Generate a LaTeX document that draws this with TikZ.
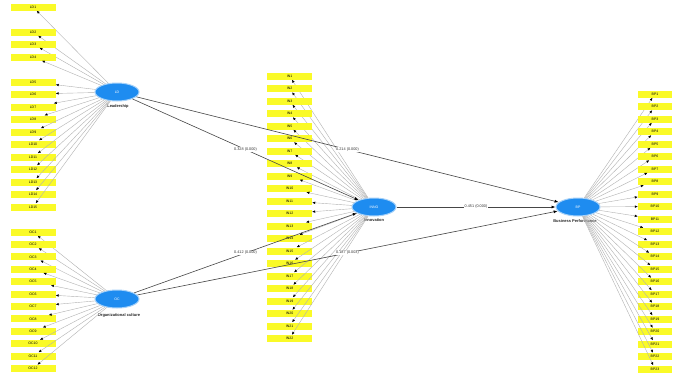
\documentclass[tikz,border=0pt]{standalone}
\usepackage{fontspec}
\setmainfont{Liberation Sans}
\usetikzlibrary{arrows.meta,shapes.geometric}
\definecolor{boxyellow}{RGB}{250,250,40}
\definecolor{lvblue}{RGB}{30,140,240}
\tikzset{
  indbox/.style={fill=boxyellow,draw=none,minimum width=45pt,minimum height=7pt,inner sep=0pt,font=\fontsize{3.5}{4}\selectfont},
  indboxr/.style={indbox,minimum width=34pt},
  lv/.style={ellipse,fill=lvblue,draw=lvblue!40,line width=1pt,minimum width=44pt,minimum height=18pt,inner sep=0pt,text=white,font=\fontsize{3.5}{4}\selectfont},
  lvlabel/.style={font=\fontsize{4}{5}\selectfont\bfseries,inner sep=0pt,text=black!85},
  ind/.style={draw=gray!60,line width=0.4pt,arrows={-{Latex[length=3pt,width=2.5pt,color=black]}}},
  pathline/.style={draw=gray!55!black,line width=0.6pt,-{Latex[length=4pt,width=3pt,color=black]}},
  coef/.style={font=\fontsize{3.8}{4.5}\selectfont,fill=white,inner sep=0.5pt,text=black!80}
}
\begin{document}
\begin{tikzpicture}[x=1pt,y=-1pt]
\useasboundingbox[fill=white] (0,0) rectangle (674,373);
% latent variables
\node[lv] (e1) at (117,92) {LD};
\node[lv] (e2) at (117,299) {OC};
\node[lv] (em) at (374,207) {INNO};
\node[lv] (er) at (578,207) {BP};
\node[lvlabel,anchor=north] (t1) at (118,104) {Leadership};
\node[lvlabel,anchor=north] (t2) at (119,313) {Organizational culture};
\node[lvlabel,anchor=north] (tm) at (374,218) {Innovation};
\node[lvlabel,anchor=north] (tr) at (575,219) {Business Performance};
% top-left indicators
\foreach \y [count=\i] in {7,32,44,57,82,94,107,119,132,144,157,169,182,194,207}{
  \node[indbox] (a\i) at (33,\y) {LD\i};
  \draw[ind] (e1) -- (a\i);
}
% bottom-left indicators
\foreach \i in {1,...,12}{
  \node[indbox] (b\i) at (33,{232+12.4*(\i-1)}) {OC\i};
  \draw[ind] (e2) -- (b\i);
}
% middle indicators
\foreach \i in {1,...,22}{
  \node[indbox] (c\i) at (289.5,{76+12.5*(\i-1)}) {IN\i};
  \draw[ind] (em) -- (c\i);
}
% right indicators
\foreach \i in {1,...,23}{
  \node[indboxr] (d\i) at (655,{94+12.5*(\i-1)}) {BP\i};
  \draw[ind] (er) -- (d\i);
}
% structural paths
\draw[pathline] (e1) -- node[coef,pos=0.5] {0.328 (0.000)} (em);
\draw[pathline] (e1) -- node[coef,pos=0.5] {0.214 (0.000)} (er);
\draw[pathline] (e2) -- node[coef,pos=0.5] {0.412 (0.000)} (em);
\draw[pathline] (e2) -- node[coef,pos=0.5] {0.187 (0.003)} (er);
\draw[pathline] (em) -- node[coef,pos=0.5] {0.451 (0.000)} (er);
\end{tikzpicture}
\end{document}
